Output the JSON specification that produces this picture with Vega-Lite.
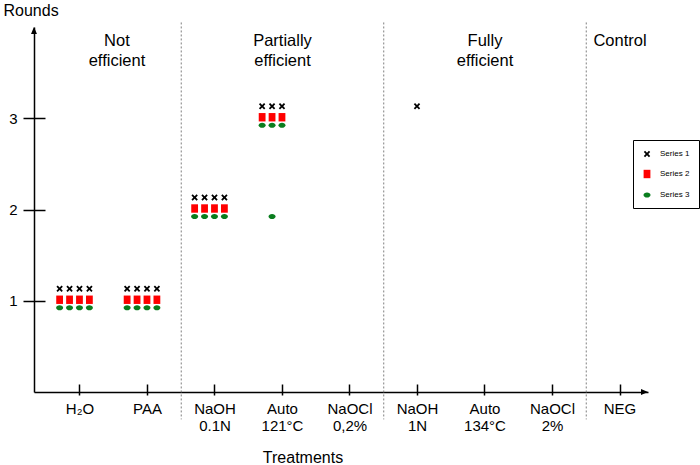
{
  "$schema": "https://vega.github.io/schema/vega-lite/v6.json",
  "width": 614,
  "height": 365,
  "autosize": {"type": "none"},
  "padding": {"left": 34, "top": 27, "right": 52, "bottom": 73},
  "background": "white",
  "config": {"font": "Liberation Sans", "view": {"stroke": null}, "axis": {"grid": false}},
  "datasets": {
    "marks": [
      {"treatment": "H₂O", "rep": 1, "series": "Series 1", "rounds": 1},
      {"treatment": "H₂O", "rep": 2, "series": "Series 1", "rounds": 1},
      {"treatment": "H₂O", "rep": 3, "series": "Series 1", "rounds": 1},
      {"treatment": "H₂O", "rep": 4, "series": "Series 1", "rounds": 1},
      {"treatment": "H₂O", "rep": 1, "series": "Series 2", "rounds": 1},
      {"treatment": "H₂O", "rep": 2, "series": "Series 2", "rounds": 1},
      {"treatment": "H₂O", "rep": 3, "series": "Series 2", "rounds": 1},
      {"treatment": "H₂O", "rep": 4, "series": "Series 2", "rounds": 1},
      {"treatment": "H₂O", "rep": 1, "series": "Series 3", "rounds": 1},
      {"treatment": "H₂O", "rep": 2, "series": "Series 3", "rounds": 1},
      {"treatment": "H₂O", "rep": 3, "series": "Series 3", "rounds": 1},
      {"treatment": "H₂O", "rep": 4, "series": "Series 3", "rounds": 1},
      {"treatment": "PAA", "rep": 1, "series": "Series 1", "rounds": 1},
      {"treatment": "PAA", "rep": 2, "series": "Series 1", "rounds": 1},
      {"treatment": "PAA", "rep": 3, "series": "Series 1", "rounds": 1},
      {"treatment": "PAA", "rep": 4, "series": "Series 1", "rounds": 1},
      {"treatment": "PAA", "rep": 1, "series": "Series 2", "rounds": 1},
      {"treatment": "PAA", "rep": 2, "series": "Series 2", "rounds": 1},
      {"treatment": "PAA", "rep": 3, "series": "Series 2", "rounds": 1},
      {"treatment": "PAA", "rep": 4, "series": "Series 2", "rounds": 1},
      {"treatment": "PAA", "rep": 1, "series": "Series 3", "rounds": 1},
      {"treatment": "PAA", "rep": 2, "series": "Series 3", "rounds": 1},
      {"treatment": "PAA", "rep": 3, "series": "Series 3", "rounds": 1},
      {"treatment": "PAA", "rep": 4, "series": "Series 3", "rounds": 1},
      {"treatment": "NaOH 0.1N", "rep": 1, "series": "Series 1", "rounds": 2},
      {"treatment": "NaOH 0.1N", "rep": 2, "series": "Series 1", "rounds": 2},
      {"treatment": "NaOH 0.1N", "rep": 3, "series": "Series 1", "rounds": 2},
      {"treatment": "NaOH 0.1N", "rep": 4, "series": "Series 1", "rounds": 2},
      {"treatment": "NaOH 0.1N", "rep": 1, "series": "Series 2", "rounds": 2},
      {"treatment": "NaOH 0.1N", "rep": 2, "series": "Series 2", "rounds": 2},
      {"treatment": "NaOH 0.1N", "rep": 3, "series": "Series 2", "rounds": 2},
      {"treatment": "NaOH 0.1N", "rep": 4, "series": "Series 2", "rounds": 2},
      {"treatment": "NaOH 0.1N", "rep": 1, "series": "Series 3", "rounds": 2},
      {"treatment": "NaOH 0.1N", "rep": 2, "series": "Series 3", "rounds": 2},
      {"treatment": "NaOH 0.1N", "rep": 3, "series": "Series 3", "rounds": 2},
      {"treatment": "NaOH 0.1N", "rep": 4, "series": "Series 3", "rounds": 2},
      {"treatment": "Auto 121°C", "rep": 1, "series": "Series 1", "rounds": 3},
      {"treatment": "Auto 121°C", "rep": 2, "series": "Series 1", "rounds": 3},
      {"treatment": "Auto 121°C", "rep": 3, "series": "Series 1", "rounds": 3},
      {"treatment": "Auto 121°C", "rep": 1, "series": "Series 2", "rounds": 3},
      {"treatment": "Auto 121°C", "rep": 2, "series": "Series 2", "rounds": 3},
      {"treatment": "Auto 121°C", "rep": 3, "series": "Series 2", "rounds": 3},
      {"treatment": "Auto 121°C", "rep": 1, "series": "Series 3", "rounds": 3},
      {"treatment": "Auto 121°C", "rep": 2, "series": "Series 3", "rounds": 3},
      {"treatment": "Auto 121°C", "rep": 3, "series": "Series 3", "rounds": 3},
      {"treatment": "Auto 121°C", "rep": 2, "series": "Series 3", "rounds": 2},
      {"treatment": "NaOH 1N", "rep": 3, "series": "Series 1", "rounds": 3}
    ],
    "dividers": [
      {"after": "PAA"},
      {"after": "NaOCl 0,2%"},
      {"after": "NaOCl 2%"}
    ],
    "groups": [
      {"at": "Auto 121°C", "label": ["Partially", "efficient"]},
      {"at": "Auto 134°C", "label": ["Fully", "efficient"]},
      {"at": "NEG", "label": ["Control"]}
    ]
  },
  "resolve": {"scale": {"x": "independent", "y": "independent"}, "axis": {"x": "independent", "y": "independent"}},
  "layer": [
    {
      "layer": [
        {
          "data": {"name": "marks"},
          "transform": [{"filter": "datum.series === 'Series 1'"}],
          "mark": {"type": "point", "filled": true, "size": 64, "opacity": 1, "yOffset": -12},
          "encoding": {
            "x": {
              "field": "treatment", "type": "nominal",
              "scale": {
                "type": "band",
                "domain": ["H₂O", "PAA", "NaOH 0.1N", "Auto 121°C", "NaOCl 0,2%", "NaOH 1N", "Auto 134°C", "NaOCl 2%", "NEG"],
                "paddingInner": 0.3, "paddingOuter": 0.198, "align": 0.8364, "round": false
              },
              "axis": {
                "orient": "bottom", "title": "Treatments", "titleFontSize": 16, "titleFontWeight": "normal",
                "titleColor": "#000", "titleX": 268.5, "titleY": 70, "titleAlign": "center", "titleBaseline": "alphabetic",
                "labelExpr": "split(datum.label, ' ')", "labelFontSize": 15, "labelColor": "#000", "labelLineHeight": 17.5,
                "labelPadding": 6, "labelAngle": 0, "tickSize": 3, "tickColor": "#000", "tickWidth": 1.5,
                "domainColor": "#000", "domainWidth": 1.5
              }
            },
            "xOffset": {
              "field": "rep", "type": "nominal",
              "scale": {"domain": [1, 2, 3, 4], "paddingInner": 0, "paddingOuter": 0.881, "align": 0.187}
            },
            "y": {
              "field": "rounds", "type": "quantitative",
              "scale": {"domain": [0, 4], "nice": false},
              "axis": {
                "orient": "left", "values": [1, 2, 3], "format": "d", "title": "Rounds", "titleAngle": 0,
                "titleAlign": "left", "titleBaseline": "alphabetic", "titleX": -31, "titleY": -11.5,
                "titleFontSize": 16, "titleFontWeight": "normal", "titleColor": "#000",
                "labelFontSize": 15, "labelColor": "#000", "labelPadding": 6,
                "tickSize": 11, "tickColor": "#000", "tickWidth": 1.5, "domainColor": "#000", "domainWidth": 1.5
              }
            },
            "color": {
              "field": "series", "type": "nominal",
              "scale": {"domain": ["Series 1", "Series 2", "Series 3"], "range": ["#000000", "#ff0000", "#0a7d1e"]},
              "legend": {
                "orient": "none", "legendX": 599, "legendY": 113, "title": null, "strokeColor": "#000",
                "fillColor": "#fff", "padding": 9, "rowPadding": 11, "symbolSize": 64, "symbolOpacity": 1,
                "labelFontSize": 8, "labelColor": "#000", "labelOffset": 8
              }
            },
            "shape": {
              "field": "series", "type": "nominal",
              "scale": {
                "domain": ["Series 1", "Series 2", "Series 3"],
                "range": [
                  "M-0.8,-0.48L-0.48,-0.8L0,-0.32L0.48,-0.8L0.8,-0.48L0.32,0L0.8,0.48L0.48,0.8L0,0.32L-0.48,0.8L-0.8,0.48L-0.32,0Z",
                  "M-0.85,-1.05H0.85V1.05H-0.85Z",
                  "M-0.875,0A0.875,0.65,0,1,1,0.875,0A0.875,0.65,0,1,1,-0.875,0Z"
                ]
              },
              "legend": {
                "orient": "none", "legendX": 599, "legendY": 113, "title": null, "strokeColor": "#000",
                "fillColor": "#fff", "padding": 9, "rowPadding": 11, "symbolSize": 64, "symbolOpacity": 1,
                "labelFontSize": 8, "labelColor": "#000", "labelOffset": 8
              }
            }
          }
        },
        {
          "data": {"name": "marks"},
          "transform": [{"filter": "datum.series === 'Series 2'"}],
          "mark": {"type": "point", "filled": true, "size": 64, "opacity": 1, "yOffset": -1},
          "encoding": {
            "x": {"field": "treatment", "type": "nominal"},
            "xOffset": {"field": "rep", "type": "nominal"},
            "y": {"field": "rounds", "type": "quantitative"},
            "color": {"field": "series", "type": "nominal"},
            "shape": {"field": "series", "type": "nominal"}
          }
        },
        {
          "data": {"name": "marks"},
          "transform": [{"filter": "datum.series === 'Series 3'"}],
          "mark": {"type": "point", "filled": true, "size": 64, "opacity": 1, "yOffset": 7},
          "encoding": {
            "x": {"field": "treatment", "type": "nominal"},
            "xOffset": {"field": "rep", "type": "nominal"},
            "y": {"field": "rounds", "type": "quantitative"},
            "color": {"field": "series", "type": "nominal"},
            "shape": {"field": "series", "type": "nominal"}
          }
        },
        {
          "data": {"name": "dividers"},
          "mark": {"type": "rule", "color": "#7f7f7f", "strokeWidth": 1, "strokeDash": [2, 2]},
          "encoding": {
            "x": {"field": "after", "type": "nominal", "bandPosition": 1.2143},
            "y": {"datum": 4.05, "type": "quantitative"},
            "y2": {"datum": -0.3}
          }
        },
        {
          "data": {"name": "groups"},
          "mark": {"type": "text", "fontSize": 16.5, "lineHeight": 19.5, "baseline": "alphabetic", "align": "center", "color": "#000"},
          "encoding": {
            "x": {"field": "at", "type": "nominal", "bandPosition": 0.5},
            "y": {"datum": 3.79, "type": "quantitative"},
            "text": {"field": "label"}
          }
        },
        {
          "data": {"values": [{}]},
          "mark": {"type": "text", "fontSize": 16.5, "lineHeight": 19.5, "baseline": "alphabetic", "align": "center", "color": "#000"},
          "encoding": {
            "x": {"datum": "PAA", "type": "nominal", "bandPosition": -0.146},
            "y": {"datum": 3.79, "type": "quantitative"},
            "text": {"value": ["Not", "efficient"]}
          }
        }
      ]
    },
    {
      "layer": [
        {
          "data": {"values": [{}]},
          "mark": {"type": "point", "filled": true, "opacity": 1, "color": "#000", "size": 49, "shape": "M0,0L0.85,2L-0.85,2Z"},
          "encoding": {
            "x": {
              "datum": "H₂O", "type": "nominal", "bandPosition": -0.4735,
              "scale": {
                "type": "band",
                "domain": ["H₂O", "PAA", "NaOH 0.1N", "Auto 121°C", "NaOCl 0,2%", "NaOH 1N", "Auto 134°C", "NaOCl 2%", "NEG"],
                "paddingInner": 0.3, "paddingOuter": 0.198, "align": 0.8364, "round": false
              },
              "axis": {"orient": "bottom", "offset": -8, "domain": false, "labels": false, "title": null, "tickSize": 8, "tickColor": "#000", "tickWidth": 1.5}
            },
            "y": {
              "datum": 4, "type": "quantitative",
              "scale": {"domain": [0, 4], "nice": false},
              "axis": {"orient": "left", "offset": -11, "values": [1, 2, 3], "domain": false, "labels": false, "title": null, "tickSize": 11, "tickColor": "#000", "tickWidth": 1.5}
            }
          }
        },
        {
          "data": {"values": [{}]},
          "mark": {"type": "point", "filled": true, "opacity": 1, "color": "#000", "size": 49, "shape": "M0,0L-2,-0.85L-2,0.85Z"},
          "encoding": {
            "x": {"datum": "NEG", "type": "nominal", "bandPosition": 1.0926},
            "y": {"datum": 0, "type": "quantitative"}
          }
        }
      ]
    }
  ]
}
